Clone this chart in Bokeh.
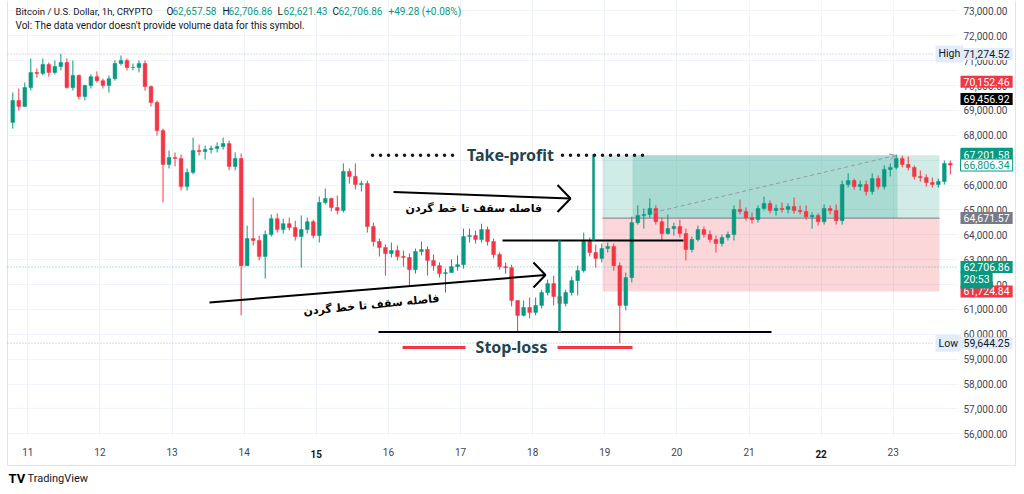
from bokeh.plotting import figure
from bokeh.models import (ColumnDataSource, Range1d, FixedTicker, NumeralTickFormatter,
                          Label, Arrow, OpenHead)
from bokeh.core.properties import value
from bokeh.embed import file_html
from bokeh.resources import INLINE

# ------------------------------------------------------------------ data
# BTC/USD, 2-hour candles, starting 10 April 18:00 (hours relative to 11 April 00:00)
start_hour = -6
candle_hours = 2
first_open = 68520
close = [69400, 69160, 69920, 70530, 70490, 70850, 70530, 70770, 70930, 69920,
         70410, 69560, 70000, 70360, 70200, 70000, 70280, 70890, 71010, 70730,
         70730, 70890, 69960, 69320, 68190, 66830, 67110, 67070, 65940, 66510,
         67390, 67350, 67430, 67470, 67550, 67670, 66750, 67070, 62760, 63850,
         63770, 63130, 64010, 64650, 64210, 64450, 64290, 63930, 64210, 64530,
         63970, 65300, 65460, 65100, 64980, 66550, 66350, 66020, 66060, 64330,
         63730, 63490, 63250, 63370, 63130, 63090, 62600, 63330, 63410, 62970,
         62760, 62440, 62480, 62720, 62800, 63930, 63970, 63810, 64210, 63730,
         63210, 62720, 62680, 61360, 60760, 61080, 60880, 61160, 61680, 62040,
         61520, 61240, 61680, 62160, 62560, 63730, 63290, 63050, 63450, 63530,
         62760, 61160, 62280, 64490, 64780, 64820, 65060, 64530, 64050, 64250,
         64330, 64050, 63410, 63810, 64210, 64010, 63810, 63650, 63890, 64010,
         65020, 64940, 64690, 64610, 65060, 65260, 64980, 65060, 65020, 65140,
         64980, 64940, 64730, 64780, 64530, 65060, 64980, 64570, 66020, 66180,
         65940, 66020, 65740, 66260, 65940, 66630, 66710, 67070, 66830, 66710,
         66350, 66300, 66100, 66020, 66140, 66870, 66806.34]
high = [69720, 69880, 70120, 71090, 70690, 71090, 70930, 71010, 71274.52, 71090,
        71010, 70450, 70040, 70450, 70570, 70280, 70410, 71010, 71210, 71090,
        70890, 71010, 71010, 70000, 69400, 68270, 67390, 67310, 67230, 66670,
        67910, 67630, 67590, 67590, 67710, 67910, 67790, 67310, 67270, 64370,
        65500, 63970, 64170, 64820, 64860, 64650, 64690, 64570, 64780, 64690,
        64610, 65540, 65860, 65500, 65580, 66870, 66670, 66870, 66180, 66180,
        64490, 63850, 63610, 63690, 63570, 63370, 63250, 63450, 63730, 63530,
        63210, 62890, 62640, 63010, 63170, 64250, 64250, 64170, 64450, 64330,
        63850, 63290, 62890, 62800, 61360, 61360, 61480, 61480, 61800, 62200,
        62360, 61520, 61800, 62320, 62760, 64090, 63890, 63610, 63650, 63690,
        63650, 62890, 62480, 64730, 65180, 65060, 65460, 65180, 64690, 64820,
        64490, 64610, 64250, 63930, 64370, 64330, 64170, 63970, 64010, 64130,
        65180, 65420, 65100, 64900, 65180, 65540, 65380, 65220, 65300, 65260,
        65500, 65180, 65180, 64900, 64860, 65220, 65180, 65220, 66180, 66470,
        66260, 66180, 66180, 66470, 66390, 66790, 66870, 67230, 67190, 67150,
        66790, 66590, 66430, 66300, 66260, 66990, 66990]
low = [68270, 69000, 69160, 69800, 70320, 70410, 70360, 70450, 70610, 69880,
       69800, 69440, 69400, 69880, 70120, 69880, 69720, 70200, 70810, 70610,
       70610, 70530, 69800, 69160, 67990, 65300, 66670, 66750, 65780, 65780,
       66430, 67190, 67030, 67270, 67310, 67430, 66590, 66590, 60760, 62760,
       63570, 62970, 62240, 63930, 64090, 64050, 64170, 63770, 62680, 64050,
       63850, 63690, 65220, 64940, 64820, 64900, 66060, 65820, 65740, 64090,
       63530, 63130, 62360, 63090, 62970, 62720, 61960, 62440, 63170, 62360,
       62560, 62280, 61680, 62480, 62560, 62640, 63690, 63650, 63690, 63570,
       63050, 62600, 62440, 61120, 60070, 60720, 60640, 60760, 61040, 61560,
       61160, 60920, 61120, 61560, 61560, 62480, 63130, 62680, 62890, 63290,
       62560, 59644.25, 60960, 62080, 64410, 64250, 64690, 64410, 63770, 64010,
       63970, 63890, 62970, 63290, 63730, 63890, 63690, 63290, 63530, 63770,
       63770, 64820, 64570, 64450, 64490, 64980, 64860, 64780, 64900, 64860,
       64860, 64820, 64610, 64250, 64370, 64410, 64820, 64410, 64410, 65900,
       65820, 65780, 65580, 65620, 65820, 65820, 66350, 66630, 66710, 66590,
       66220, 66140, 65940, 65900, 65900, 66020, 66430]

day_ticks = [11, 12, 13, 14, 15, 16, 17, 18, 19, 20, 21, 22, 23]
bold_days = [15, 22]
price_ticks = list(range(56000, 73001, 1000))

header_title = "Bitcoin / U.S. Dollar, 1h, CRYPTO"
header_letters = ["O", "H", "L", "C"]
header_ohlc = ["62,657.58", "62,706.86", "62,621.43", "62,706.86"]
header_change = "+49.28 (+0.08%)"
header_vol = "Vol: The data vendor doesn't provide volume data for this symbol."

# drawings (day of April, price)
neck_days, neck_price = [17.582, 20.092], 63770
base_days, base_price = [15.863, 21.312], 60092
arrow_low_days, arrow_low_prices = [13.519, 18.178], [61279, 62384]
arrow_up_days, arrow_up_prices = [16.071, 18.525], [65722, 65460]
tp_days, tp_price = [[15.780, 17.000], [18.414, 19.634]], 67200
sl_days, sl_price = [[16.196, 17.069], [18.345, 19.385]], 59470
meas_days = [18.372, 18.844]
meas_bottom = [60092, 63770]
meas_top = [63770, 67230]
tp_label = ("Take-profit", 17.693, 67200)
sl_label = ("Stop-loss", 17.707, 59470)
fa_text = "فاصله سقف تا خط گردن"
fa_days = [16.237, 14.823]        # left end of each note
fa_prices = [65058, 60917]
fa_angles = [0.0, 0.096]

pos_days = [18.969, 19.385, 23.060, 23.641]   # start, entry, target hit, end
pos_target, pos_entry, pos_stop = 67201.58, 64671.57, 61724.84
path_days, path_prices = [19.676, 23.031], [64897, 67190]

high_price, low_price = 71274.52, 59644.25
last_price = 62706.86
badges = [  # price, text, background, text colour, border
    (67257.44, "67,257.44", "#089981", "#ffffff", None),
    (70152.46, "70,152.46", "#f23645", "#ffffff", None),
    (69456.92, "69,456.92", "#000000", "#ffffff", None),
    (67201.58, "67,201.58", "#089981", "#ffffff", None),
    (66806.34, "66,806.34", "#ffffff", "#089981", "#089981"),
    (64671.57, "64,671.57", "#787b86", "#ffffff", None),
    (62706.86, "62,706.86", "#089981", "#ffffff", None),
    (61724.84, "61,724.84", "#f23645", "#ffffff", None),
]

# ------------------------------------------------------------------ layout
W, H = 1024, 494
PX_DAY = 72.12        # pixels per day
PX_K = 24.87          # pixels per 1000 USD
X11 = 27.3            # pixel of 11 April 00:00
Y_TOP = 73422         # price at the top edge
CHART_R, CHART_B = 957, 436   # right / bottom edge of the candle pane
GREEN, RED, INK = "#089981", "#f23645", "#131722"
FONT = "Roboto"
GRID = "#f0f3fa"
BORDER = "#e0e3eb"


def day_at(px):
    return 11 + (px - X11) / PX_DAY


def price_at(py):
    return Y_TOP - py / PX_K * 1000


def sx(cx):
    return cx


def sy(cy):
    return H - cy


x_start, x_end = day_at(0), day_at(W)
y_start, y_end = price_at(H), Y_TOP

p = figure(width=W, height=H, x_range=Range1d(x_start, x_end),
           y_range=Range1d(y_start, y_end),
           output_backend="svg", toolbar_location=None, y_axis_location="right",
           min_border=0, min_border_left=0, min_border_right=0, min_border_top=0,
           min_border_bottom=0, outline_line_color=None,
           background_fill_color="#ffffff", border_fill_color="#ffffff")

p.xaxis.ticker = FixedTicker(ticks=day_ticks)
p.xaxis.major_label_overrides = {d: "" for d in bold_days}
p.yaxis.ticker = FixedTicker(ticks=price_ticks)
p.yaxis.formatter = NumeralTickFormatter(format="0,0.00")
for ax in (p.xaxis[0], p.yaxis[0]):
    ax.major_tick_in = 0
    ax.major_tick_out = 0
    ax.minor_tick_in = 0
    ax.minor_tick_out = 0
    ax.axis_line_color = None
    ax.major_label_text_font = FONT
    ax.major_label_text_font_size = "10px"
    ax.major_label_text_color = "#434651"
p.yaxis.major_label_standoff = 963 - W
p.xaxis.major_label_standoff = 447 - H
p.xgrid.ticker = FixedTicker(ticks=day_ticks)
p.ygrid.ticker = FixedTicker(ticks=price_ticks)
p.grid.grid_line_color = GRID

# ---- blank the price-scale and time-scale strips (grid only inside the pane)
p.quad(left=[day_at(CHART_R), x_start, x_start],
       right=[x_end, day_at(CHART_R), day_at(7)],
       bottom=[y_start, y_start, y_start],
       top=[y_end, price_at(CHART_B), y_end],
       fill_color="#ffffff", line_color=None)
p.segment(x0=[day_at(7), day_at(1015), day_at(7)],
          x1=[day_at(7), day_at(1015), day_at(1015)],
          y0=[price_at(465), price_at(465), price_at(465)],
          y1=[y_end, y_end, price_at(465)],
          line_color=BORDER, line_width=1)

# ---- position tool
p.quad(left=[pos_days[0]], right=[pos_days[3]], bottom=[pos_entry], top=[pos_target],
       fill_color=GREEN, fill_alpha=0.19, line_color=None)
p.quad(left=[pos_days[1]], right=[pos_days[2]], bottom=[pos_entry], top=[pos_target],
       fill_color=GREEN, fill_alpha=0.2, line_color=None)
p.quad(left=[pos_days[0]], right=[pos_days[3]], bottom=[pos_stop], top=[pos_entry],
       fill_color=RED, fill_alpha=0.2, line_color=None)
p.segment(x0=[pos_days[0]], x1=[pos_days[3]], y0=[pos_entry], y1=[pos_entry],
          line_color="#787b86", line_width=1)

# ---- horizontal price lines (high, low, last)
p.segment(x0=[day_at(7)] * 2, x1=[day_at(932)] * 2, y0=[high_price, low_price],
          y1=[high_price, low_price], line_color="#b2b5be", line_dash="1 2", line_width=1)
p.segment(x0=[day_at(7)], x1=[day_at(CHART_R)], y0=[last_price], y1=[last_price],
          line_color=GREEN, line_alpha=0.55, line_dash="1 2", line_width=1)

# ---- candles
n = len(close)
opens = [first_open] + close[:-1]
days = [11 + (start_hour + candle_hours * (k + 0.5)) / 24 for k in range(n)]
colors = [GREEN if c >= o else RED for o, c in zip(opens, close)]
src = ColumnDataSource(dict(day=days, open=opens, close=close, high=high, low=low,
                            top=[max(o, c) for o, c in zip(opens, close)],
                            bottom=[min(o, c) for o, c in zip(opens, close)],
                            color=colors))
p.segment(x0="day", x1="day", y0="low", y1="high", line_color="color", line_width=1,
          source=src)
p.vbar(x="day", width=candle_hours * 0.62 / 24, top="top", bottom="bottom",
       fill_color="color", line_color="color", line_width=0.5, source=src)

# ---- drawings
p.segment(x0=[neck_days[0]], x1=[neck_days[1]], y0=[neck_price], y1=[neck_price],
          line_color="#000000", line_width=2)
p.segment(x0=[base_days[0]], x1=[base_days[1]], y0=[base_price], y1=[base_price],
          line_color="#000000", line_width=2)
p.segment(x0=meas_days, x1=meas_days, y0=meas_bottom, y1=meas_top,
          line_color=GREEN, line_width=2.5)


def chevron(d, pr, back_px, half_px):
    bd = back_px / PX_DAY
    hp = half_px / PX_K * 1000
    return [d - bd, d, d - bd], [pr + hp, pr, pr - hp]


for ds, ps, back, half in ((arrow_low_days, arrow_low_prices, 12, 12.5),
                           (arrow_up_days, arrow_up_prices, 13, 13.5)):
    p.line(ds, ps, line_color="#000000", line_width=2)
    cx, cy = chevron(ds[1], ps[1], back, half)
    p.line(cx, cy, line_color="#000000", line_width=2)

for seg in tp_days:
    p.line(seg, [tp_price, tp_price], line_color=INK, line_width=3.5,
           line_dash="0 8", line_cap="round")
for seg in sl_days:
    p.line(seg, [sl_price, sl_price], line_color=RED, line_width=3)

p.text(x=[tp_label[1], sl_label[1]], y=[tp_label[2], sl_label[2]],
       text=[tp_label[0], sl_label[0]], text_font=value("Noto Sans"),
       text_font_size="16px", text_font_style="bold", text_color="#24434a",
       text_align="center", text_baseline="middle")
p.text(x=fa_days, y=fa_prices, text=[fa_text, fa_text], angle=fa_angles,
       text_font=value("DejaVu Sans"), text_font_style="bold", text_font_size="11px",
       text_color="#000000", text_align="left", text_baseline="middle")

p.add_layout(Arrow(x_start=path_days[0], y_start=path_prices[0], x_end=path_days[1],
                   y_end=path_prices[1], line_color="#9598a1", line_width=1,
                   line_dash="4 3",
                   end=OpenHead(size=6, line_color="#9598a1", line_width=1)))


# ---- axis badges
def badge(price, text, bg, fg, border=None, cx=960, yoff=0):
    p.add_layout(Label(x=sx(cx), y=price, x_units="screen", y_units="data",
                       y_offset=yoff, text=text, text_font=FONT,
                       text_font_size="10.5px", text_color=fg, text_align="left",
                       text_baseline="middle", background_fill_color=bg,
                       border_line_color=border, padding=(3, 2)))


badge(high_price, "High", "#e3ecfb", INK, cx=935)
badge(high_price, "71,274.52", "#e3ecfb", INK)
badge(low_price, "Low", "#e3ecfb", INK, cx=935)
badge(low_price, "59,644.25", "#e3ecfb", INK)
for b in badges:
    badge(*b)
badge(last_price, "20:53", GREEN, "#ffffff", yoff=-13)


# ---- header and footer texts
def screen_label(cx, cy, text, color=INK, size="10px", style="normal", align="left"):
    p.add_layout(Label(x=sx(cx), y=sy(cy), x_units="screen", y_units="screen",
                       text=text, text_font=FONT, text_font_size=size,
                       text_font_style=style, text_color=color, text_align=align,
                       text_baseline="middle"))


screen_label(15, 10.5, header_title, size="9.6px")
for cxl, cxv, letter, val in zip([166, 222, 277, 332], [172, 228, 283, 338],
                                 header_letters, header_ohlc):
    screen_label(cxl, 10.5, letter)
    screen_label(cxv, 10.5, val, color=GREEN)
screen_label(388, 10.5, header_change, color=GREEN)
screen_label(15, 24.5, header_vol)

for d in bold_days:
    p.add_layout(Label(x=d, y=sy(453), x_units="data", y_units="screen", text=str(d),
                       text_font=FONT, text_font_size="10px", text_font_style="bold",
                       text_color=INK, text_align="center", text_baseline="middle"))

screen_label(8, 478, "TV", color="#000000", size="13px", style="bold")
screen_label(27, 478, "TradingView", color=INK, size="11px")

open("out.html", "w").write(file_html(p, INLINE))
